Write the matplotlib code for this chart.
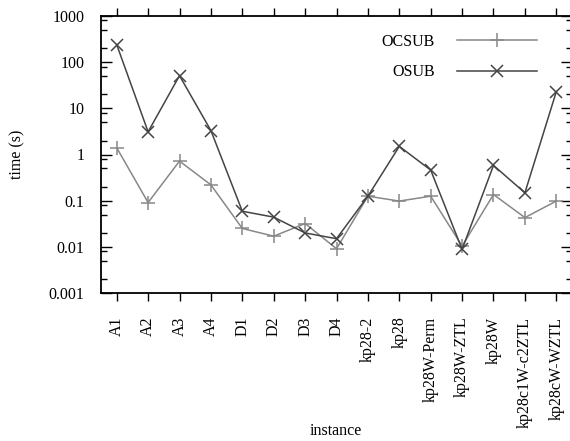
import numpy as np
import matplotlib
matplotlib.use('Agg')
import matplotlib.pyplot as plt
from matplotlib.ticker import LogLocator, NullFormatter

plt.rcParams['font.family'] = 'Liberation Serif'
plt.rcParams['font.size'] = 11.5

instances = ['A1', 'A2', 'A3', 'A4', 'D1', 'D2', 'D3', 'D4', 'kp28-2', 'kp28',
             'kp28W-Perm', 'kp28W-ZTL', 'kp28W', 'kp28c1W-c2ZTL', 'kp28cW-WZTL']
ocsub = [1.4, 0.091, 0.72, 0.22, 0.025, 0.017, 0.032, 0.0091, 0.125, 0.098,
         0.125, 0.0104, 0.136, 0.043, 0.098]
osub = [240, 3.1, 51, 3.3, 0.059, 0.044, 0.020, 0.015, 0.125, 1.5,
        0.46, 0.0088, 0.58, 0.148, 23]

x = np.arange(len(instances))

fig = plt.figure(figsize=(5.7, 4.41), dpi=100)
ax = fig.add_axes([101 / 570, 1 - 293 / 441, 471 / 570, 277 / 441])

ax.plot(x, ocsub, color='#888888', lw=1.1, marker='+', ms=10, mew=1.1, label='OCSUB')
ax.plot(x, osub, color='#444444', lw=1.1, marker='x', ms=9, mew=1.1, label='OSUB')

ax.set_yscale('log')
ax.set_ylim(0.001, 1000)
ax.set_xlim(-0.5, len(instances) - 0.5)

ax.set_yticks([0.001, 0.01, 0.1, 1, 10, 100, 1000])
ax.set_yticklabels(['0.001', '0.01', '0.1', '1', '10', '100', '1000'])
ax.yaxis.set_minor_locator(LogLocator(base=10, subs=(2, 5, 8)))
ax.yaxis.set_minor_formatter(NullFormatter())

ax.set_xticks(x)
ax.set_xticklabels(instances, rotation=90)

ax.tick_params(axis='y', which='major', direction='in', length=8, width=1,
               left=True, right=True, pad=12)
ax.tick_params(axis='y', which='minor', direction='in', length=4.5, width=1,
               left=True, right=True)
ax.tick_params(axis='x', which='major', direction='out', length=6, width=1,
               bottom=True, top=True, pad=11)
ax.tick_params(axis='x', which='minor', bottom=False, top=False)

for s in ax.spines.values():
    s.set_linewidth(1.3)

ax.set_ylabel('time (s)')
ax.yaxis.set_label_coords(-0.16, 0.5)
ax.set_xlabel('instance')
ax.xaxis.set_label_coords(0.499, -0.47)

ax.legend(loc='upper right', bbox_to_anchor=(0.926, 0.935), frameon=False,
          markerfirst=False, handlelength=5.0, handletextpad=1.4,
          labelspacing=0.9, borderpad=0, borderaxespad=0)

fig.savefig('out.png', dpi=100)
